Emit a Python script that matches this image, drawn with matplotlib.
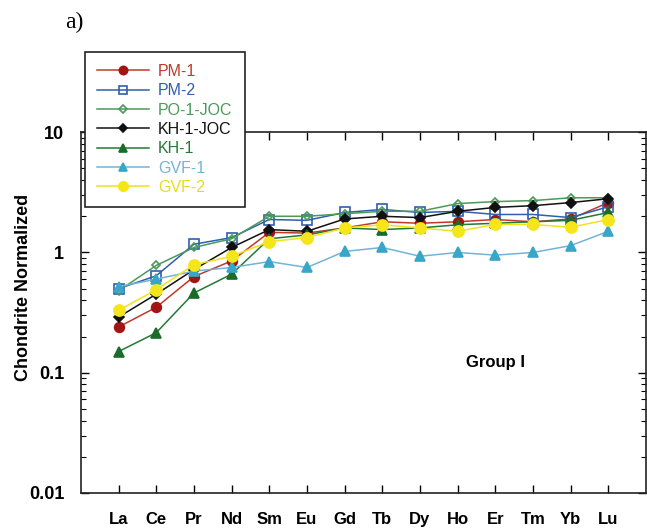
import matplotlib

matplotlib.use("Agg")
import matplotlib.pyplot as plt
import matplotlib.ticker as ticker

# --- data ---
elements = ["La", "Ce", "Pr", "Nd", "Sm", "Eu", "Gd", "Tb", "Dy", "Ho", "Er", "Tm", "Yb", "Lu"]

pm1 = [0.24, 0.35, 0.63, 0.85, 1.47, 1.45, 1.60, 1.80, 1.75, 1.80, 1.88, 1.80, 1.90, 2.60]
pm2 = [0.50, 0.64, 1.17, 1.33, 1.88, 1.85, 2.15, 2.28, 2.15, 2.20, 2.07, 2.07, 1.95, 2.40]
po1_joc = [0.48, 0.78, 1.10, 1.30, 2.00, 2.00, 2.10, 2.20, 2.20, 2.55, 2.65, 2.70, 2.85, 2.85]
kh1_joc = [0.29, 0.45, 0.72, 1.10, 1.55, 1.50, 1.90, 2.00, 1.95, 2.20, 2.37, 2.45, 2.60, 2.80]
kh1 = [0.15, 0.215, 0.46, 0.66, 1.30, 1.40, 1.60, 1.55, 1.60, 1.70, 1.75, 1.80, 1.85, 2.15]
gvf1 = [0.52, 0.60, 0.70, 0.75, 0.84, 0.75, 1.02, 1.10, 0.93, 1.00, 0.95, 1.00, 1.14, 1.50]
gvf2 = [0.33, 0.49, 0.79, 0.93, 1.23, 1.33, 1.60, 1.70, 1.60, 1.50, 1.71, 1.71, 1.62, 1.88]

y_ticks = [0.01, 0.1, 1, 10]

series = [
    # label, values, line colour, marker, marker face, marker edge, size
    ("PM-1", pm1, "#c0392b", "o", "#a31515", "#a31515", 7),
    ("PM-2", pm2, "#2f5fb0", "s", "none", "#2f5fb0", 7),
    ("PO-1-JOC", po1_joc, "#4a9a5a", "D", "none", "#4a9a5a", 4.5),
    ("KH-1-JOC", kh1_joc, "#111111", "D", "#111111", "#111111", 5),
    ("KH-1", kh1, "#237a34", "^", "#1b6b2b", "#1b6b2b", 7),
    ("GVF-1", gvf1, "#72b4d6", "^", "#38a6c8", "#38a6c8", 7),
    ("GVF-2", gvf2, "#f2e21a", "o", "#f5e51b", "#f5e51b", 8),
]

plt.rcParams["font.family"] = ["Liberation Sans", "DejaVu Sans"]

fig = plt.figure(figsize=(6.47, 5.31), dpi=100)
ax = fig.add_axes([0.125, 0.0716, 0.8735, 0.6794])

x = list(range(len(elements)))
handles = []
for label, vals, lc, mk, mfc, mec, ms in series:
    (h,) = ax.plot(
        x, vals, color=lc, lw=1.1, marker=mk, markersize=ms,
        markerfacecolor=mfc, markeredgecolor=mec, markeredgewidth=1.2,
        label=label,
    )
    handles.append(h)

ax.set_yscale("log")
ax.set_ylim(0.01, 10)
ax.set_xlim(-1, len(elements))
ax.set_xticks(x)
ax.set_xticklabels(elements, fontsize=12, fontweight="bold")
ax.yaxis.set_major_locator(ticker.FixedLocator(y_ticks))
ax.yaxis.set_major_formatter(ticker.FuncFormatter(lambda v, p: f"{v:g}"))
ax.yaxis.set_minor_locator(ticker.LogLocator(base=10, subs=range(2, 10)))
ax.yaxis.set_minor_formatter(ticker.NullFormatter())
for lab in ax.get_yticklabels():
    lab.set_fontsize(13)
    lab.set_fontweight("bold")

ax.tick_params(axis="x", which="major", direction="in", top=True, length=6, width=1, pad=14)
ax.tick_params(axis="y", which="major", direction="in", right=True, length=6, width=1, pad=12)
ax.tick_params(axis="y", which="minor", direction="in", right=True, length=3.5, width=0.8)
for sp in ax.spines.values():
    sp.set_linewidth(1.2)
    sp.set_color("#222222")

ax.text(10, 0.121, "Group I", fontsize=12, fontweight="bold", ha="center", va="center")

fig.text(0.036, 0.458, "Chondrite Normalized", rotation=90, fontsize=13,
         fontweight="bold", ha="center", va="center")
fig.text(0.1, 1 - 22 / 531, "a)", fontsize=17, family="Liberation Serif",
         ha="left", va="center")

leg = fig.legend(
    handles=handles, loc="upper left", bbox_to_anchor=(0.131, 0.902),
    borderaxespad=0, fontsize=11.5, labelcolor="linecolor", frameon=True,
    fancybox=False, edgecolor="#222222", framealpha=1, handlelength=3.3,
    labelspacing=0.27, borderpad=0.75, handletextpad=0.55, markerscale=0.85,
)
leg.get_frame().set_linewidth(1.2)
for t, s in zip(leg.get_texts(), series):
    t.set_color(s[2] if s[0] != "GVF-2" else "#e8dc20")

fig.savefig("out.png", dpi=100, facecolor="white")
